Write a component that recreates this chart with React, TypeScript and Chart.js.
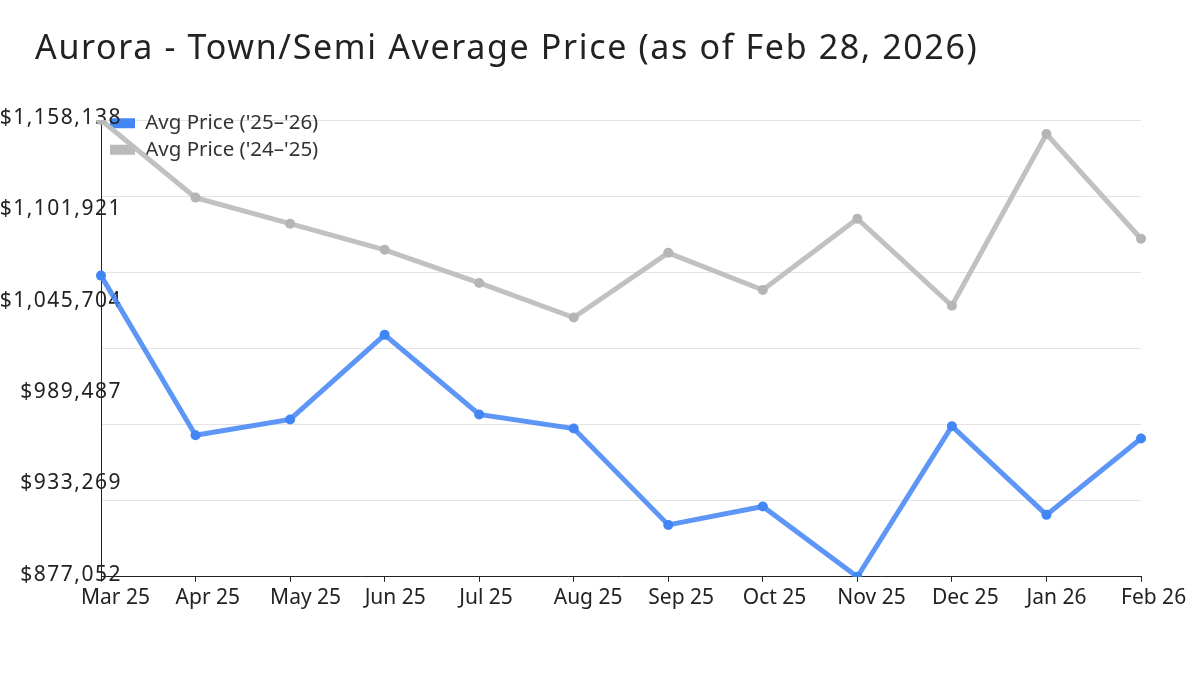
import React, { useEffect, useRef } from "react";
import { Chart, registerables } from "chart.js";

Chart.register(...registerables);

const titleText = "Aurora - Town/Semi Average Price (as of Feb 28, 2026)";
const months = ["Mar 25", "Apr 25", "May 25", "Jun 25", "Jul 25", "Aug 25", "Sep 25", "Oct 25", "Nov 25", "Dec 25", "Jan 26", "Feb 26"];
const seriesCurrentLabel = "Avg Price ('25–'26)";
const seriesPriorLabel = "Avg Price ('24–'25)";
const seriesCurrent = [1062383, 964158, 973857, 1025935, 976945, 968297, 908991, 920296, 877052, 969718, 915168, 962119];
const seriesPrior = [1158138, 1110383, 1094322, 1078260, 1057873, 1036622, 1076407, 1053549, 1097411, 1043850, 1149489, 1085054];
const yTickLabels = ["$877,052", "$933,269", "$989,487", "$1,045,704", "$1,101,921", "$1,158,138"];

const FONT = "'Noto Sans', 'Open Sans', 'DejaVu Sans', sans-serif";

export default function App() {
  const ref = useRef<HTMLCanvasElement | null>(null);

  useEffect(() => {
    if (!ref.current) return;
    const all = [...seriesCurrent, ...seriesPrior];
    const yMin = Math.min(...all);
    const yMax = Math.max(...all);

    const legendPlace = {
      id: "legendPlace",
      afterLayout(chart: any) {
        const lg = chart.legend;
        const ca = chart.chartArea;
        if (lg && ca) {
          lg.left = ca.left + 3;
          lg.right = ca.right;
          lg.top = ca.top - 13;
          lg.bottom = ca.bottom;
        }
      },
    };

    const chart = new Chart(ref.current, {
      type: "line",
      data: {
        labels: months,
        datasets: [
          {
            label: seriesCurrentLabel,
            data: seriesCurrent,
            borderColor: "rgba(66,133,244,0.86)",
            backgroundColor: "#4285F4",
            pointBackgroundColor: "#4285F4",
            pointBorderColor: "#4285F4",
            borderWidth: 5,
            pointRadius: 5,
            pointBorderWidth: 0,
            tension: 0,
            yAxisID: "y",
          },
          {
            label: seriesPriorLabel,
            data: seriesPrior,
            borderColor: "rgba(190,190,190,0.95)",
            backgroundColor: "#bababa",
            pointBackgroundColor: "#b5b5b5",
            pointBorderColor: "#b5b5b5",
            borderWidth: 5,
            pointRadius: 5,
            pointBorderWidth: 0,
            tension: 0,
            yAxisID: "y",
          },
        ],
      },
      options: {
        responsive: false,
        animation: false,
        devicePixelRatio: 1,
        layout: { padding: { left: 0, top: 120, right: 59, bottom: 60 } },
        plugins: {
          title: { display: false },
          tooltip: { enabled: false },
          legend: {
            display: true,
            position: "chartArea" as any,
            align: "start",
            labels: {
              boxWidth: 25,
              boxHeight: 10,
              padding: 6,
              color: "#333333",
              font: { family: FONT, size: 20.5 },
              generateLabels: (c: any) =>
                Chart.defaults.plugins.legend.labels.generateLabels(c).map((l: any) => ({
                  ...l,
                  lineWidth: 0,
                  strokeStyle: l.fillStyle,
                })),
            },
          },
        },
        scales: {
          x: {
            type: "category",
            offset: false,
            grid: {
              display: true,
              drawOnChartArea: false,
              drawTicks: true,
              tickLength: 5,
              color: "#222222",
            },
            border: { display: true, color: "#222222", width: 1 },
            ticks: {
              align: "start",
              labelOffset: -20,
              padding: 4,
              maxRotation: 0,
              autoSkip: false,
              color: "#222222",
              font: { family: FONT, size: 21 },
            },
            afterFit: (s: any) => {
              s.paddingLeft = 0;
              s.paddingRight = 0;
            },
          },
          y: {
            type: "linear",
            position: "left",
            min: yMin,
            max: yMax,
            grid: { display: false, drawTicks: false },
            border: { display: true, color: "#222222", width: 1 },
            ticks: {
              count: yTickLabels.length,
              padding: -21,
              labelOffset: -2,
              color: "#222222",
              font: { family: FONT, size: 21 },
              callback: (_v: any, i: number) => yTickLabels[i],
            },
            afterFit: (s: any) => {
              s.width = 101;
              s._computeLabelArea = () => undefined;
              if (!s._spacedLabels) {
                const orig = s.drawLabels;
                s.drawLabels = function (area: any) {
                  const ctx = this.ctx;
                  ctx.save();
                  ctx.letterSpacing = "1.5px";
                  orig.call(this, area);
                  ctx.restore();
                };
                s._spacedLabels = true;
              }
            },
          },
          yg: {
            type: "linear",
            position: "left",
            min: yMin,
            max: yMax,
            grid: { display: true, drawTicks: false, color: "#e4e4e4", lineWidth: 1 },
            border: { display: false },
            ticks: { display: false, count: 7 },
          },
        },
      },
      plugins: [legendPlace],
    });
    return () => chart.destroy();
  }, []);

  return (
    <div style={{ position: "fixed", left: 0, top: 0, width: 1200, height: 675, background: "#ffffff" }}>
      <div
        style={{
          position: "absolute",
          left: 35,
          top: 29,
          fontFamily: FONT,
          fontSize: 34,
          lineHeight: "34px",
          letterSpacing: "1.65px",
          color: "#222222",
          whiteSpace: "nowrap",
          zIndex: 1,
        }}
      >
        {titleText}
      </div>
      <canvas ref={ref} width={1200} height={675} style={{ position: "absolute", left: 0, top: 0, width: 1200, height: 675 }} />
    </div>
  );
}
